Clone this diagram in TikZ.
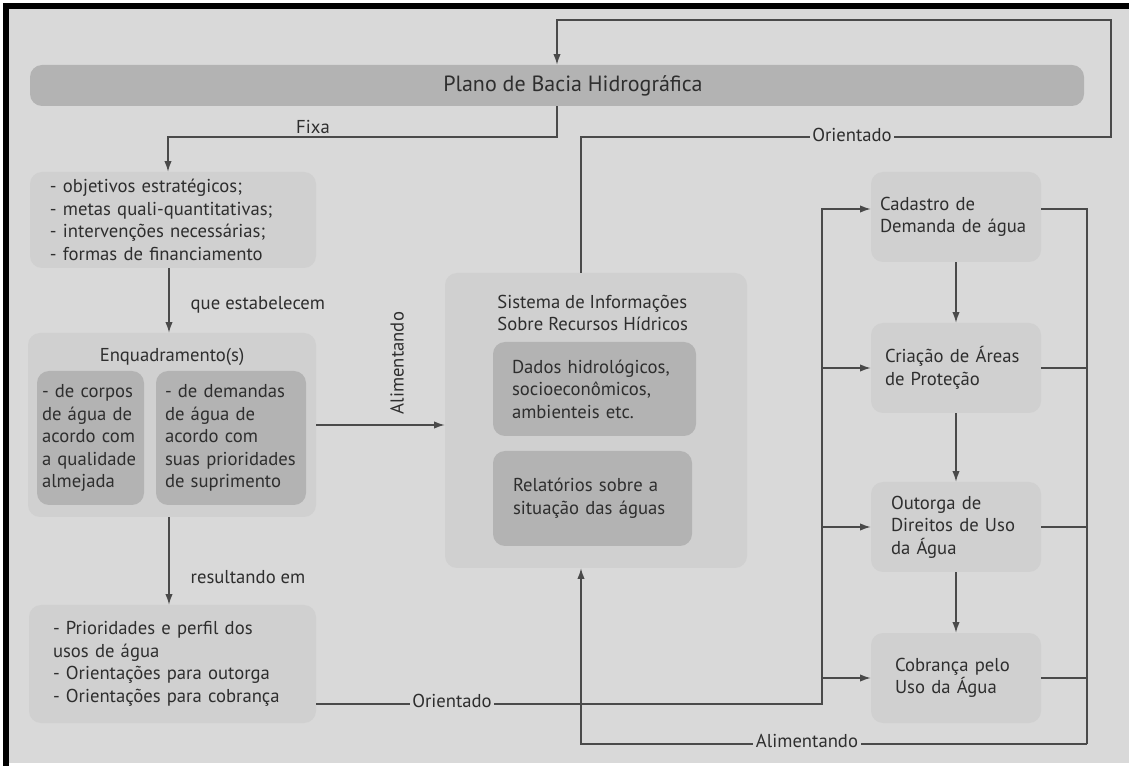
\documentclass[tikz,border=0pt]{standalone}
\usepackage{fontspec}
\setmainfont{PT Sans}
\usetikzlibrary{arrows.meta, positioning}
\definecolor{bg}{HTML}{D9D9D9}
\definecolor{boxlight}{HTML}{D0D0D0}
\definecolor{boxdark}{HTML}{B3B3B3}
\definecolor{linegray}{HTML}{4A4A4A}
\definecolor{txt}{HTML}{2E2E2E}

\begin{document}
\begin{tikzpicture}[x=0.75pt, y=-0.75pt,
    every node/.style={font=\fontsize{14}{16.9}\selectfont, text=txt},
    lbox/.style={rectangle, rounded corners=9pt, fill=boxlight, align=left},
    dbox/.style={rectangle, rounded corners=9pt, fill=boxdark, align=left},
    line/.style={draw=linegray, line width=1pt},
    arr/.style={line, -{Latex[length=8pt, width=5.5pt]}},
    lbl/.style={fill=bg, inner sep=2pt}]
    \useasboundingbox (0,0) rectangle (1129,766);
    \fill[white] (0,0) rectangle (1129,766);
    \fill[bg] (6,6) rectangle (1129,763);
    \draw[line width=4.5pt] (6,766) -- (6,6) -- (1129,6);

    % boxes
    \node[dbox, minimum width=790.5pt, minimum height=30.75pt, font=\fontsize{16.5}{18}\selectfont] (plano) at (557,85.5) {\hspace*{24pt}Plano de Bacia Hidrográfica};
    \node[lbox, text width=184.5pt, inner xsep=15pt, minimum height=72pt] (obj) at (173,220) {- objetivos estratégicos;\\ - metas quali-quantitativas;\\ - intervenções necessárias;\\ - formas de financiamento};
    \node[lbox, minimum width=216pt, minimum height=138pt, label={[anchor=center, yshift=-18pt]north:Enquadramento(s)}] (enq) at (172,425) {};
    \node[dbox, text width=72.75pt, inner xsep=3.75pt, minimum height=100.5pt] (corpos) at (90.5,438) {- de corpos\\ de água de\\ acordo com\\ a qualidade\\ almejada};
    \node[dbox, text width=99pt, inner xsep=6.75pt, minimum height=100.5pt] (demandas) at (231,438) {- de demandas\\ de água de\\ acordo com\\ suas prioridades\\ de suprimento};
    \node[lbox, text width=179.25pt, inner xsep=18pt, minimum height=88.5pt] (res) at (172.5,664) {- Prioridades e perfil dos\\ usos de água\\ - Orientações para outorga\\ - Orientações para cobrança};

    \node[lbox, minimum width=226.5pt, minimum height=221.25pt, label={[anchor=west, align=left, xshift=36pt, yshift=-30pt]north west:Sistema de Informações\\ Sobre Recursos Hídricos}] (sis) at (596,420.5) {};
    \node[dbox, text width=123.75pt, inner xsep=14.25pt, minimum height=70.5pt] (dados) at (594.5,389) {Dados hidrológicos,\\ socioeconômicos,\\ ambienteis etc.};
    \node[dbox, text width=119.25pt, inner xsep=15pt, minimum height=71.25pt] (relat) at (592.5,498.5) {Relatórios sobre a\\ situação das águas};

    \node[lbox, text width=114pt, inner xsep=6.75pt, minimum height=67.5pt] (cad) at (956,217) {Cadastro de\\ Demanda de água};
    \node[lbox, text width=106.5pt, inner xsep=10.5pt, minimum height=67.5pt] (cri) at (956,368) {Criação de Áreas\\ de Proteção};
    \node[lbox, text width=97.5pt, inner xsep=15pt, minimum height=67.5pt] (out) at (956,527) {Outorga de\\ Direitos de Uso\\ da Água};
    \node[lbox, text width=91.5pt, inner xsep=18pt, minimum height=67.5pt] (cob) at (956,678) {Cobrança pelo\\ Uso da Água};

    \coordinate (busL) at (822,704);
    \coordinate (busR) at (1087,744);
    \coordinate (loopR) at (1111,137);
    \coordinate (loopT) at (1111,20);
    \coordinate (fixaL) at (168,137);

    % connectors
    \draw[arr] ([xshift=-11.25pt]sis.north) |- (loopR) -- (loopT) -| (plano.north);
    \draw[arr] (plano.south) |- (fixaL) -- ([xshift=-3.75pt]obj.north);
    \draw[arr] ([xshift=-3pt]obj.south) -- ([xshift=-3pt]obj.south |- enq.north);
    \draw[arr] ([xshift=-2.25pt]enq.south) -- ([xshift=-2.25pt]enq.south |- res.north);
    \draw[arr] (enq.east) -- (enq.east -| sis.west);
    \draw[arr] ([yshift=-30pt]res.east) -- (busL) |- ([yshift=6pt]cad.west);
    \draw[arr] (busL |- cri.west) -- (cri.west);
    \draw[arr] (busL |- out.west) -- (out.west);
    \draw[arr] (busL |- cob.west) -- (cob.west);
    \draw[line] ([yshift=6pt]cad.east) -| (busR);
    \draw[line] (cri.east) -- (cri.east -| busR);
    \draw[line] (out.east) -- (out.east -| busR);
    \draw[line] (cob.east) -- (cob.east -| busR);
    \draw[arr] (busR) -| ([xshift=-11.25pt]sis.south);
    \draw[arr] (cad) -- (cri);
    \draw[arr] (cri) -- (out);
    \draw[arr] (out) -- (cob);

    % labels
    \node (fixa) at (313,127) {Fixa};
    \node[anchor=west] (que) at (186,305) {que estabelecem};
    \node[anchor=west] (result) at (186,577) {resultando em};
    \node[rotate=90] (alim1) at (397,363) {Alimentando};
    \node[lbl] (ori1) at (852,135) {Orientado};
    \node[lbl] (ori2) at (452,701) {Orientado};
    \node[lbl] (alim2) at (807,741) {Alimentando};
\end{tikzpicture}
\end{document}
